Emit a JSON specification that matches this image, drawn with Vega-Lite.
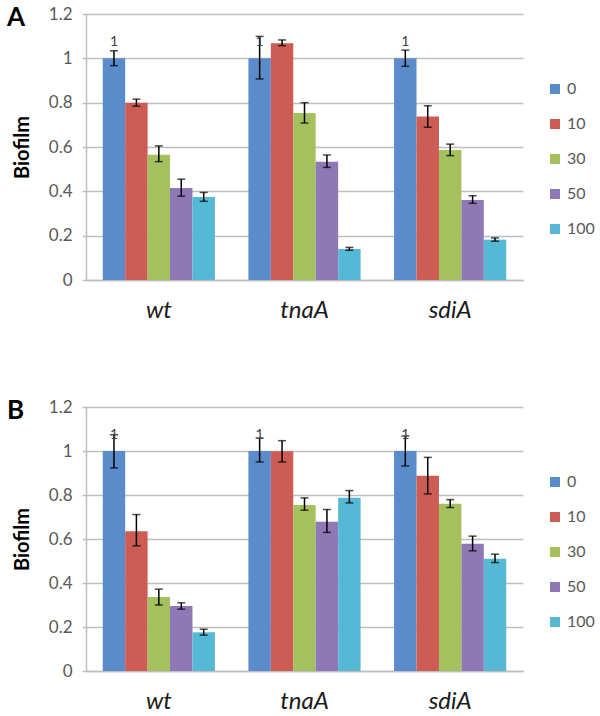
{
  "$schema": "https://vega.github.io/schema/vega-lite/v6.json",
  "padding": {"left": 7, "top": 5, "right": 5, "bottom": 2},
  "datasets": {
    "bio": [
      {"panel": "A", "strain": "wt", "conc": "0", "value": 1.0, "lo": 0.967, "hi": 1.034},
      {"panel": "A", "strain": "wt", "conc": "10", "value": 0.80, "lo": 0.784, "hi": 0.816},
      {"panel": "A", "strain": "wt", "conc": "30", "value": 0.565, "lo": 0.534, "hi": 0.605},
      {"panel": "A", "strain": "wt", "conc": "50", "value": 0.415, "lo": 0.378, "hi": 0.455},
      {"panel": "A", "strain": "wt", "conc": "100", "value": 0.375, "lo": 0.355, "hi": 0.395},
      {"panel": "A", "strain": "tnaA", "conc": "0", "value": 1.0, "lo": 0.907, "hi": 1.099},
      {"panel": "A", "strain": "tnaA", "conc": "10", "value": 1.068, "lo": 1.057, "hi": 1.083},
      {"panel": "A", "strain": "tnaA", "conc": "30", "value": 0.753, "lo": 0.708, "hi": 0.80},
      {"panel": "A", "strain": "tnaA", "conc": "50", "value": 0.534, "lo": 0.508, "hi": 0.564},
      {"panel": "A", "strain": "tnaA", "conc": "100", "value": 0.14, "lo": 0.134, "hi": 0.147},
      {"panel": "A", "strain": "sdiA", "conc": "0", "value": 1.0, "lo": 0.964, "hi": 1.037},
      {"panel": "A", "strain": "sdiA", "conc": "10", "value": 0.738, "lo": 0.689, "hi": 0.786},
      {"panel": "A", "strain": "sdiA", "conc": "30", "value": 0.586, "lo": 0.561, "hi": 0.613},
      {"panel": "A", "strain": "sdiA", "conc": "50", "value": 0.361, "lo": 0.346, "hi": 0.38},
      {"panel": "A", "strain": "sdiA", "conc": "100", "value": 0.182, "lo": 0.175, "hi": 0.19},
      {"panel": "B", "strain": "wt", "conc": "0", "value": 1.0, "lo": 0.923, "hi": 1.074},
      {"panel": "B", "strain": "wt", "conc": "10", "value": 0.635, "lo": 0.569, "hi": 0.711},
      {"panel": "B", "strain": "wt", "conc": "30", "value": 0.336, "lo": 0.30, "hi": 0.372},
      {"panel": "B", "strain": "wt", "conc": "50", "value": 0.295, "lo": 0.281, "hi": 0.31},
      {"panel": "B", "strain": "wt", "conc": "100", "value": 0.176, "lo": 0.163, "hi": 0.19},
      {"panel": "B", "strain": "tnaA", "conc": "0", "value": 1.0, "lo": 0.95, "hi": 1.059},
      {"panel": "B", "strain": "tnaA", "conc": "10", "value": 0.999, "lo": 0.95, "hi": 1.047},
      {"panel": "B", "strain": "tnaA", "conc": "30", "value": 0.754, "lo": 0.731, "hi": 0.787},
      {"panel": "B", "strain": "tnaA", "conc": "50", "value": 0.678, "lo": 0.63, "hi": 0.734},
      {"panel": "B", "strain": "tnaA", "conc": "100", "value": 0.787, "lo": 0.764, "hi": 0.82},
      {"panel": "B", "strain": "sdiA", "conc": "0", "value": 1.0, "lo": 0.932, "hi": 1.068},
      {"panel": "B", "strain": "sdiA", "conc": "10", "value": 0.887, "lo": 0.805, "hi": 0.971},
      {"panel": "B", "strain": "sdiA", "conc": "30", "value": 0.76, "lo": 0.743, "hi": 0.779},
      {"panel": "B", "strain": "sdiA", "conc": "50", "value": 0.578, "lo": 0.546, "hi": 0.613},
      {"panel": "B", "strain": "sdiA", "conc": "100", "value": 0.51, "lo": 0.493, "hi": 0.531}
    ]
  },
  "data": {"name": "bio"},
  "bounds": "flush",
  "spacing": 127,
  "resolve": {"legend": {"color": "independent"}},
  "config": {
    "font": "Lato",
    "view": {"stroke": null},
    "axis": {
      "labelFont": "Lato",
      "titleFont": "Lato"
    }
  },
  "vconcat": [
    {
      "width": 437,
      "height": 266,
      "title": {"text": "A", "anchor": "start", "frame": "group", "fontSize": 26, "fontWeight": "bold", "font": "Lato", "color": "#000000", "dx": -79, "dy": 26, "offset": 0},
      "transform": [{"filter": "datum.panel === 'A'"}],
      "encoding": {
        "x": {
          "field": "strain", "type": "nominal", "sort": ["wt", "tnaA", "sdiA"],
          "scale": {"paddingInner": 0.23, "paddingOuter": 0.115},
          "axis": {"title": null, "labelAngle": 0, "ticks": false, "domainColor": "#BEBEBE", "domainWidth": 1.5, "labelFontSize": 24, "labelFontStyle": "italic", "labelColor": "#1a1a1a", "labelPadding": 18}
        },
        "xOffset": {"field": "conc", "type": "nominal", "sort": ["0", "10", "30", "50", "100"], "scale": {"paddingInner": 0, "paddingOuter": 0}}
      },
      "layer": [
        {
          "mark": {"type": "bar"},
          "encoding": {
            "y": {
              "field": "value", "type": "quantitative",
              "scale": {"domain": [0, 1.2], "nice": false},
              "axis": {"title": "Biofilm", "titleFontSize": 20, "titleFontWeight": "bold", "titleColor": "#000000", "titlePadding": 16, "values": [0, 0.2, 0.4, 0.6, 0.8, 1, 1.2], "format": "~g", "labelFontSize": 17, "labelColor": "#595959", "labelPadding": 10, "tickSize": 4, "tickColor": "#BEBEBE", "tickWidth": 1.5, "domainColor": "#BEBEBE", "domainWidth": 1.5, "gridColor": "#BEBEBE", "gridWidth": 1.5}
            },
            "color": {
              "field": "conc", "type": "nominal", "sort": ["0", "10", "30", "50", "100"],
              "scale": {"domain": ["0", "10", "30", "50", "100"], "range": ["#5A8BCA", "#CC5C54", "#A4C15E", "#8F78B6", "#55B8D4"]},
              "legend": {"title": null, "orient": "none", "legendX": 461, "legendY": 67, "padding": 0, "symbolType": "square", "symbolSize": 100, "symbolStrokeWidth": 0, "labelFontSize": 16, "labelColor": "#595959", "labelOffset": 4, "rowPadding": 19}
            }
          }
        },
        {
          "mark": {"type": "rule", "color": "#000000", "strokeWidth": 1.5},
          "encoding": {"y": {"field": "lo", "type": "quantitative"}, "y2": {"field": "hi"}}
        },
        {
          "mark": {"type": "tick", "color": "#000000", "size": 8, "thickness": 1.5},
          "encoding": {"y": {"field": "lo", "type": "quantitative"}}
        },
        {
          "mark": {"type": "tick", "color": "#000000", "size": 8, "thickness": 1.5},
          "encoding": {"y": {"field": "hi", "type": "quantitative"}}
        },
        {
          "transform": [{"filter": "datum.conc === '0'"}],
          "mark": {"type": "text", "fontSize": 14, "color": "#404040", "baseline": "middle", "dy": -16},
          "encoding": {"y": {"field": "value", "type": "quantitative"}, "text": {"field": "value", "type": "quantitative", "format": "d"}}
        }
      ]
    },
    {
      "width": 437,
      "height": 264,
      "title": {"text": "B", "anchor": "start", "frame": "group", "fontSize": 26, "fontWeight": "bold", "font": "Lato", "color": "#000000", "dx": -79, "dy": 26, "offset": 0},
      "transform": [{"filter": "datum.panel === 'B'"}],
      "encoding": {
        "x": {
          "field": "strain", "type": "nominal", "sort": ["wt", "tnaA", "sdiA"],
          "scale": {"paddingInner": 0.23, "paddingOuter": 0.115},
          "axis": {"title": null, "labelAngle": 0, "ticks": false, "domainColor": "#BEBEBE", "domainWidth": 1.5, "labelFontSize": 24, "labelFontStyle": "italic", "labelColor": "#1a1a1a", "labelPadding": 18}
        },
        "xOffset": {"field": "conc", "type": "nominal", "sort": ["0", "10", "30", "50", "100"], "scale": {"paddingInner": 0, "paddingOuter": 0}}
      },
      "layer": [
        {
          "mark": {"type": "bar"},
          "encoding": {
            "y": {
              "field": "value", "type": "quantitative",
              "scale": {"domain": [0, 1.2], "nice": false},
              "axis": {"title": "Biofilm", "titleFontSize": 20, "titleFontWeight": "bold", "titleColor": "#000000", "titlePadding": 16, "values": [0, 0.2, 0.4, 0.6, 0.8, 1, 1.2], "format": "~g", "labelFontSize": 17, "labelColor": "#595959", "labelPadding": 10, "tickSize": 4, "tickColor": "#BEBEBE", "tickWidth": 1.5, "domainColor": "#BEBEBE", "domainWidth": 1.5, "gridColor": "#BEBEBE", "gridWidth": 1.5}
            },
            "color": {
              "field": "conc", "type": "nominal", "sort": ["0", "10", "30", "50", "100"],
              "scale": {"domain": ["0", "10", "30", "50", "100"], "range": ["#5A8BCA", "#CC5C54", "#A4C15E", "#8F78B6", "#55B8D4"]},
              "legend": {"title": null, "orient": "none", "legendX": 461, "legendY": 67, "padding": 0, "symbolType": "square", "symbolSize": 100, "symbolStrokeWidth": 0, "labelFontSize": 16, "labelColor": "#595959", "labelOffset": 4, "rowPadding": 19}
            }
          }
        },
        {
          "mark": {"type": "rule", "color": "#000000", "strokeWidth": 1.5},
          "encoding": {"y": {"field": "lo", "type": "quantitative"}, "y2": {"field": "hi"}}
        },
        {
          "mark": {"type": "tick", "color": "#000000", "size": 8, "thickness": 1.5},
          "encoding": {"y": {"field": "lo", "type": "quantitative"}}
        },
        {
          "mark": {"type": "tick", "color": "#000000", "size": 8, "thickness": 1.5},
          "encoding": {"y": {"field": "hi", "type": "quantitative"}}
        },
        {
          "transform": [{"filter": "datum.conc === '0'"}],
          "mark": {"type": "text", "fontSize": 14, "color": "#404040", "baseline": "middle", "dy": -16},
          "encoding": {"y": {"field": "value", "type": "quantitative"}, "text": {"field": "value", "type": "quantitative", "format": "d"}}
        }
      ]
    }
  ]
}
